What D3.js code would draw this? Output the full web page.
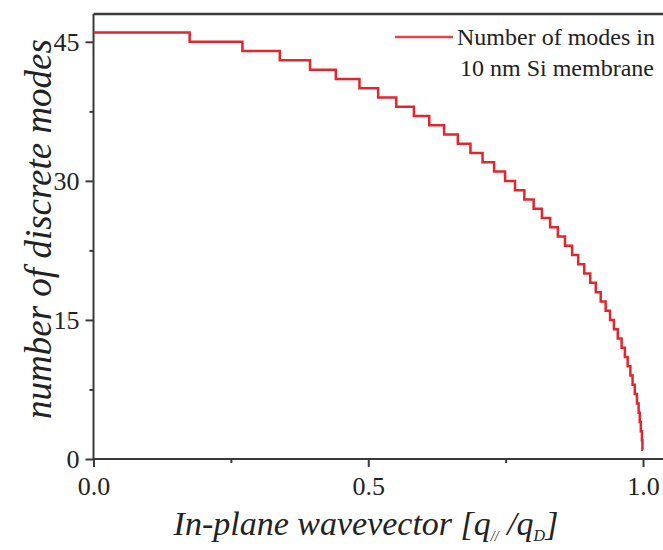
<html><head><meta http-equiv="Content-Type" content="text/html; charset=UTF-8"><title>discrete modes</title>
<script src="https://cdn.jsdelivr.net/npm/d3@7/dist/d3.min.js"></script>
<style>
	body	{ margin:0; background:#fff; }
	svg text	{ fill:#222; }
	.ax path, .ax line { stroke:#3a3a3a; stroke-width:2; }
</style>
</head><body>
<svg width="663" height="550"></svg>
<script>
// q_par/q_D where the mode count drops by one
var stepQ=[0,0.175,0.271,0.339,0.394,0.441,0.484,0.518,0.551,0.583,0.611,0.638,0.663,0.686,0.708,0.729,
	0.749,0.767,0.784,0.801,0.816,0.831,0.845,0.858,0.871,0.882,0.893,0.904,0.914,0.923,0.932,0.940,
	0.947,0.954,0.961,0.967,0.972,0.977,0.981,0.985,0.989,0.992,0.994,0.996,0.998,0.999,1.0];
// number of modes from each edge on
var stepN=[46,45,44,43,42,41,40,39,38,37,36,35,34,33,32,31,30,29,28,27,26,25,24,23,22,21,20,19,18,17,16,15,
	14,13,12,11,10,9,8,7,6,5,4,3,2,1,1];
var xTicks=[0,0.5,1.0], xMinor=[0.25,0.75];
var yTicks=[0,15,30,45], yMinor=[7.5,22.5,37.5];
var legendText=["Number of modes in","10 nm Si membrane"];
var serif="'Liberation Serif', 'Times New Roman', Times, 'DejaVu Serif', serif";

var svg=d3.select('svg').style('font-family',serif);
var x=d3.scaleLinear().domain([0,1.04]).range([93.5,665]);
var y=d3.scaleLinear().domain([0,48]).range([459,14]);

// top frame
svg.append('line').attr('x1',x(0)).attr('x2',663).attr('y1',y(48)).attr('y2',y(48))
	.attr('stroke','#3a3a3a').attr('stroke-width',2.5);

// minor ticks
var gx=svg.append('g').attr('class','ax').attr('transform','translate(0,'+y(0)+')');
gx.call(d3.axisBottom(x).tickValues(xMinor).tickSize(4).tickSizeOuter(0).tickFormat(''));
gx.select('.domain').remove();
var gy=svg.append('g').attr('class','ax').attr('transform','translate('+x(0)+',0)');
gy.call(d3.axisLeft(y).tickValues(yMinor).tickSize(4).tickSizeOuter(0).tickFormat(''));
gy.select('.domain').remove();

// major axes
var ax=svg.append('g').attr('class','ax').attr('transform','translate(0,'+y(0)+')')
	.call(d3.axisBottom(x).tickValues(xTicks).tickSize(8).tickSizeOuter(0).tickPadding(10).tickFormat(d3.format('.1f')));
ax.select('.domain').attr('d','M'+x(0)+',0H663');
var ay=svg.append('g').attr('class','ax').attr('transform','translate('+x(0)+',0)')
	.call(d3.axisLeft(y).tickValues(yTicks).tickSize(8).tickSizeOuter(0).tickPadding(6));
ay.select('.domain').attr('d','M0,'+y(48)+'V'+(y(0)+1));
svg.selectAll('.ax').attr('font-family',serif);
svg.selectAll('.ax text').attr('font-size',26).attr('fill','#222');

// step curve
var line=d3.line().x(function(d,i){return x(stepQ[i]);}).y(function(d){return y(d);}).curve(d3.curveStepAfter);
svg.append('path').attr('d',line(stepN)).attr('fill','none')
	.attr('stroke','#e0262f').attr('stroke-width',2.5);

// legend
svg.append('line').attr('x1',395).attr('x2',453).attr('y1',37).attr('y2',37)
	.attr('stroke','#e4414a').attr('stroke-width',2.5);
svg.append('text').attr('x',457).attr('y',45).attr('font-size',24).text(legendText[0]);
svg.append('text').attr('x',460).attr('y',76).attr('font-size',24).text(legendText[1]);

// axis titles
svg.append('text').attr('transform','translate(51,229) rotate(-90)').attr('text-anchor','middle')
	.attr('font-size',37).attr('font-style','italic').text('number of discrete modes');
var t=svg.append('text').attr('x',366).attr('y',535).attr('text-anchor','middle')
	.attr('font-size',34).attr('font-style','italic');
t.append('tspan').text('In-plane wavevector [q');
t.append('tspan').attr('font-size',14).attr('dy',6).text('//');
t.append('tspan').attr('dy',-6).text(' /q');
t.append('tspan').attr('font-size',16).attr('dy',6).text('D');
t.append('tspan').attr('dy',-6).text(']');
</script>
</body></html>
